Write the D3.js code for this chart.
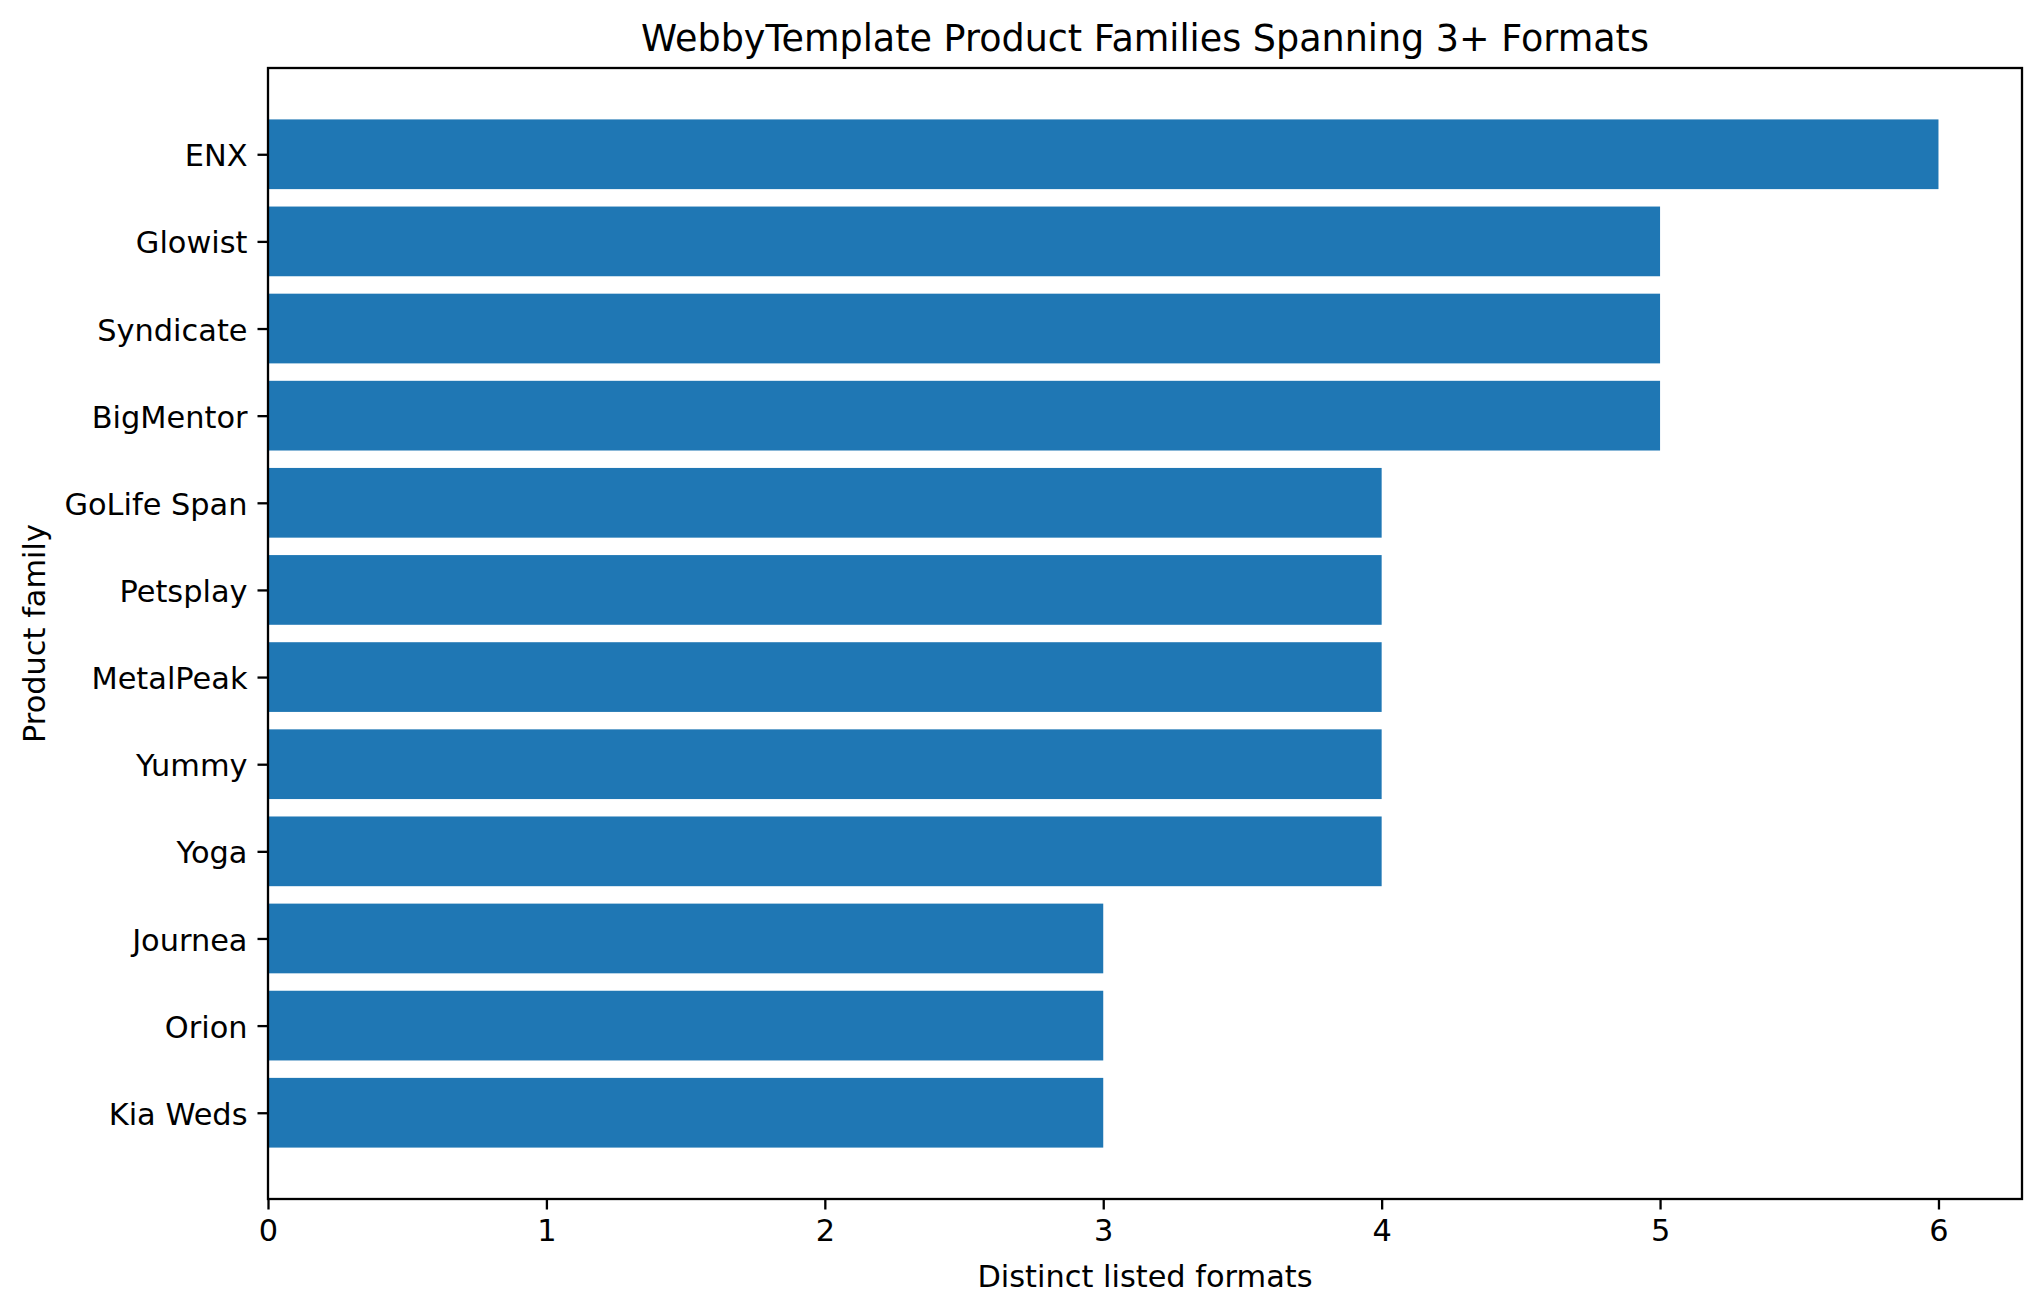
<!DOCTYPE html>
<html>
<head>
<meta charset="utf-8">
<script src="https://cdn.jsdelivr.net/npm/d3@7"></script>
<style>
  html, body { margin: 0; padding: 0; background: #fff; }
  svg { display: block; }
  text { font-family: "DejaVu Sans", sans-serif; fill: #000; }
</style>
</head>
<body>
<svg id="chart" width="2043" height="1314"></svg>
<script>
const categories = ["ENX", "Glowist", "Syndicate", "BigMentor", "GoLife Span", "Petsplay", "MetalPeak", "Yummy", "Yoga", "Journea", "Orion", "Kia Weds"];
const formatCounts = [6, 5, 5, 5, 4, 4, 4, 4, 4, 3, 3, 3];
const xTicks = [0, 1, 2, 3, 4, 5, 6];
const titleText = "WebbyTemplate Product Families Spanning 3+ Formats";
const xLabelText = "Distinct listed formats";
const yLabelText = "Product family";

const W = 2043, H = 1314;
const m = { left: 268, right: 2022, top: 68, bottom: 1199 };
const svg = d3.select("#chart");

const n = categories.length;
const barH = 0.8;
const x = d3.scaleLinear().domain([0, d3.max(formatCounts) * 1.05]).range([m.left, m.right]);
// matplotlib-like: index 0 at top (inverted), 5% margins
const lo = -barH / 2, hi = (n - 1) + barH / 2, pad = (hi - lo) * 0.05;
const y = d3.scaleLinear().domain([lo - pad, hi + pad]).range([m.top, m.bottom]);

const color = "#1f77b4";

svg.append("g").selectAll("rect").data(categories).join("rect")
  .attr("x", x(0))
  .attr("y", (d, i) => y(i - barH / 2))
  .attr("width", (d, i) => x(formatCounts[i]) - x(0))
  .attr("height", (d, i) => y(i + barH / 2) - y(i - barH / 2))
  .attr("fill", color);

const tickLen = 10.5, tickPad = 10, lw = 2.3;
const fs = 30.4;

// x axis
const xAxis = d3.axisBottom(x).tickValues(xTicks).tickFormat(d3.format("d"))
  .tickSize(tickLen).tickPadding(tickPad);
const gx = svg.append("g").attr("transform", `translate(0,${m.bottom})`).call(xAxis);
gx.select(".domain").remove();
gx.selectAll(".tick line").attr("stroke", "#000").attr("stroke-width", lw);
gx.selectAll(".tick text").attr("font-size", fs).attr("font-family", "DejaVu Sans").attr("fill", "#000");

// y axis
const yAxis = d3.axisLeft(y).tickValues(d3.range(n)).tickFormat(i => categories[i])
  .tickSize(tickLen).tickPadding(tickPad);
const gy = svg.append("g").attr("transform", `translate(${m.left},0)`).call(yAxis);
gy.select(".domain").remove();
gy.selectAll(".tick line").attr("stroke", "#000").attr("stroke-width", lw);
gy.selectAll(".tick text").attr("font-size", fs).attr("font-family", "DejaVu Sans").attr("fill", "#000")
  .attr("dy", "0.38em");

// spines
svg.append("rect")
  .attr("x", m.left).attr("y", m.top)
  .attr("width", m.right - m.left).attr("height", m.bottom - m.top)
  .attr("fill", "none").attr("stroke", "#000").attr("stroke-width", lw);

// title
svg.append("text")
  .attr("x", (m.left + m.right) / 2).attr("y", m.top - 17)
  .attr("text-anchor", "middle").attr("font-size", 36.5)
  .text(titleText);

// x label
svg.append("text")
  .attr("x", (m.left + m.right) / 2).attr("y", 1287)
  .attr("text-anchor", "middle").attr("font-size", fs)
  .text(xLabelText);

// y label
svg.append("text")
  .attr("transform", `translate(45,${(m.top + m.bottom) / 2}) rotate(-90)`)
  .attr("text-anchor", "middle").attr("font-size", fs)
  .text(yLabelText);
</script>
</body>
</html>
